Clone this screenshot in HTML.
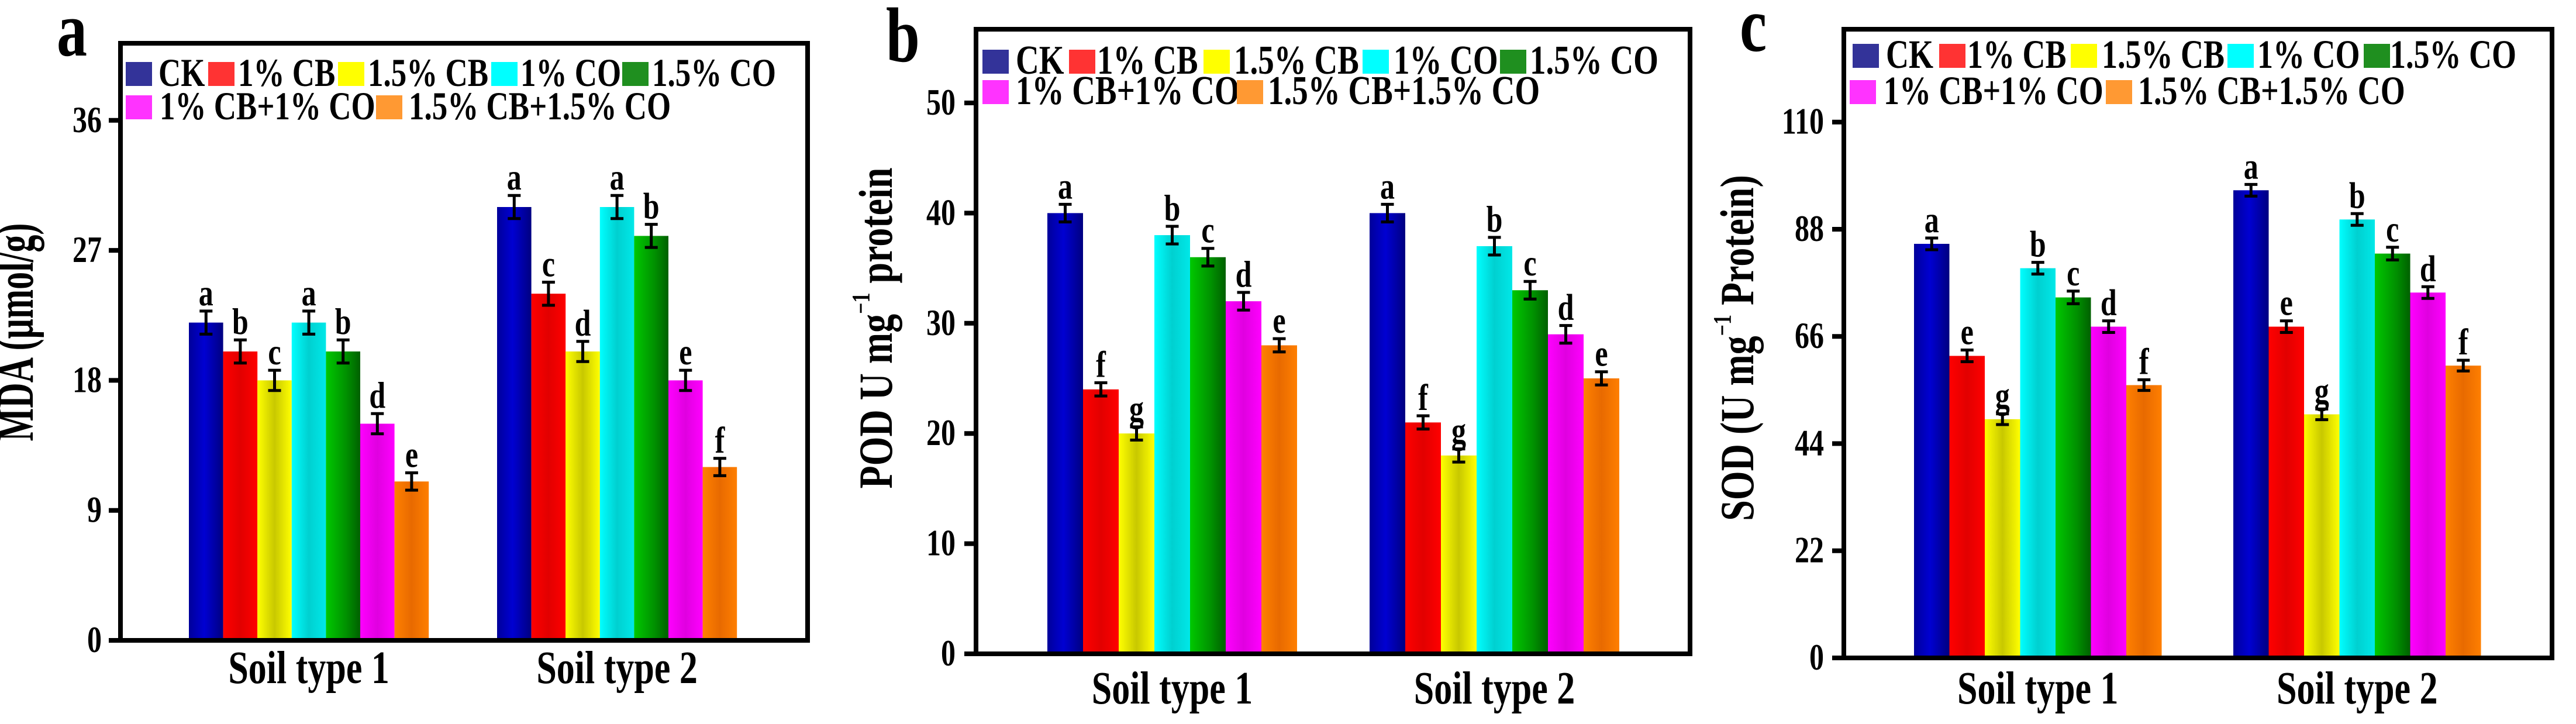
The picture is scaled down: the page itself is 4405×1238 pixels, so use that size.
<!DOCTYPE html>
<html><head><meta charset="utf-8"><style>
html,body{margin:0;padding:0;background:#fff;}
svg{display:block;font-family:"Liberation Serif",serif;font-weight:bold;}
</style></head><body>
<svg id="chart" width="4405" height="1238" viewBox="0 0 4405 1238" xmlns="http://www.w3.org/2000/svg">
<defs>
<linearGradient id="g0" x1="0" x2="1"><stop offset="0" stop-color="#00009a"/><stop offset="0.45" stop-color="#0000d2"/><stop offset="1" stop-color="#000080"/></linearGradient>
<linearGradient id="g1" x1="0" x2="1"><stop offset="0" stop-color="#ff0000"/><stop offset="0.5" stop-color="#e20000"/><stop offset="1" stop-color="#ff0000"/></linearGradient>
<linearGradient id="g2" x1="0" x2="1"><stop offset="0" stop-color="#ffff00"/><stop offset="0.5" stop-color="#c8c800"/><stop offset="1" stop-color="#ffff00"/></linearGradient>
<linearGradient id="g3" x1="0" x2="1"><stop offset="0" stop-color="#00ffff"/><stop offset="0.5" stop-color="#00d0d0"/><stop offset="1" stop-color="#00e8e8"/></linearGradient>
<linearGradient id="g4" x1="0" x2="1"><stop offset="0" stop-color="#00c800"/><stop offset="0.6" stop-color="#009000"/><stop offset="1" stop-color="#006000"/></linearGradient>
<linearGradient id="g5" x1="0" x2="1"><stop offset="0" stop-color="#ff00ff"/><stop offset="0.5" stop-color="#e000e0"/><stop offset="1" stop-color="#ff00ff"/></linearGradient>
<linearGradient id="g6" x1="0" x2="1"><stop offset="0" stop-color="#ff8000"/><stop offset="0.5" stop-color="#e86a00"/><stop offset="1" stop-color="#ff7f00"/></linearGradient>
</defs>
</svg>
<script>
// ---- data ----
const categories = ["Soil type 1", "Soil type 2"];
const seriesNames = ["CK", "1% CB", "1.5% CB", "1% CO", "1.5% CO", "1% CB+1% CO", "1.5% CB+1.5% CO"];
const mdaSoil1 = [22, 20, 18, 22, 20, 15, 11];
const mdaSoil2 = [30, 24, 20, 30, 28, 18, 12];
const mdaErr = [0.8, 0.8, 0.7, 0.8, 0.8, 0.7, 0.6];
const mdaLetters1 = ["a","b","c","a","b","d","e"];
const mdaLetters2 = ["a","c","d","a","b","e","f"];
const mdaTicks = [0, 9, 18, 27, 36];
const podSoil1 = [40, 24, 20, 38, 36, 32, 28];
const podSoil2 = [40, 21, 18, 37, 33, 29, 25];
const podErr = [0.8, 0.6, 0.6, 0.8, 0.8, 0.8, 0.6];
const podLetters1 = ["a","f","g","b","c","d","e"];
const podLetters2 = ["a","f","g","b","c","d","e"];
const podTicks = [0, 10, 20, 30, 40, 50];
const sodSoil1 = [85, 62, 49, 80, 74, 68, 56];
const sodSoil2 = [96, 68, 50, 90, 83, 75, 60];
const sodErr = [1.2, 1.2, 1.1, 1.2, 1.3, 1.2, 1.1];
const sodLetters1 = ["a","e","g","b","c","d","f"];
const sodLetters2 = ["a","e","g","b","c","d","f"];
const sodTicks = [0, 22, 44, 66, 88, 110];

const legendColors = ["#333399","#ff3333","#ffff00","#00ffff","#1f8f1f","#ff33ff","#ff9933"];
const NS = "http://www.w3.org/2000/svg";
const svg = document.getElementById("chart");
const SY = 1.28;
function mk(tag, attrs, parent, text){
  const e = document.createElementNS(NS, tag);
  for (const k in attrs) e.setAttribute(k, attrs[k]);
  if (text !== undefined) e.textContent = text;
  (parent || svg).appendChild(e);
  return e;
}
function txt(x, y, attrs, parent, text){
  const a = Object.assign({x:0, y:0, transform:`translate(${x},${y}) scale(1,${SY})`}, attrs);
  return mk("text", a, parent, text);
}

const panels = [
  {key:"mda", label:"a", labelX:97, labelY:95, left:206, right:1381, top:74, base:1095, perUnit:24.7,
   groupStarts:[323, 850], bw:58.6, s1:mdaSoil1, s2:mdaSoil2, err:mdaErr, l1:mdaLetters1, l2:mdaLetters2, ticks:mdaTicks,
   tickRight:174, catY:1168, titleX:56, titleY:568, titleFs:60, titleSY:1.5,
   leg:{fs:53, r1y:106, r2y:163, sq:[215,356,578,840,1064,215,643], tx:[271,407,629,890,1115,273,699]}},
  {key:"pod", label:"b", labelX:1515, labelY:105, left:1669, right:2890, top:50, base:1118, perUnit:18.84,
   groupStarts:[1791, 2342], bw:61, s1:podSoil1, s2:podSoil2, err:podErr, l1:podLetters1, l2:podLetters2, ticks:podTicks,
   tickRight:1634, catY:1203, titleX:1525, titleY:561, titleFs:64, titleSY:1.28,
   leg:{fs:55, r1y:85, r2y:137, sq:[1680,1828,2058,2330,2565,1680,2115], tx:[1737,1876,2110,2383,2616,1737,2168]}},
  {key:"sod", label:"c", labelX:2975, labelY:87, left:3153, right:4364, top:50, base:1125, perUnit:8.33,
   groupStarts:[3273, 3819], bw:60.5, s1:sodSoil1, s2:sodSoil2, err:sodErr, l1:sodLetters1, l2:sodLetters2, ticks:sodTicks,
   tickRight:3119, catY:1203, titleX:2998, titleY:595, titleFs:64, titleSY:1.28,
   leg:{fs:54, r1y:75, r2y:137, sq:[3168,3316,3541,3809,4042,3163,3601], tx:[3225,3364,3594,3860,4087,3221,3656]}}
];

panels.forEach(p => {
  const g = mk("g", {});
  
  
  const y = v => p.base - v * p.perUnit;
  const x = (gi, si) => p.groupStarts[gi] + si * p.bw;

  [p.s1, p.s2].forEach((vals, gi) => {
    const letters = gi === 0 ? p.l1 : p.l2;
    vals.forEach((v, si) => {
      const r = mk("rect", {x:x(gi,si), y:y(v), width:p.bw, height:p.base - y(v), fill:"url(#g"+si+")"}, g);
      
      
      const cx = x(gi,si) + p.bw/2;
      const eTop = y(v + p.err[si]), eBot = y(v - p.err[si]);
      const eb = mk("path", {d:`M${cx-11},${eTop}H${cx+11}M${cx},${eTop}V${eBot}M${cx-11},${eBot}H${cx+11}`, stroke:"#000", "stroke-width":5, fill:"none"}, g);
      
      
      const t = txt(cx, eTop - 10, {"font-size":50, "text-anchor":"middle"}, g, letters[si]);
      
      
    });
  });

  const fr = mk("rect", {x:p.left, y:p.top, width:p.right-p.left, height:p.base-p.top, fill:"none", stroke:"#000", "stroke-width":8}, g);
  
  

  p.ticks.forEach(tv => {
    const tk = mk("line", {x1:p.left-20, x2:p.left, y1:y(tv), y2:y(tv), stroke:"#000", "stroke-width":8}, g);
    
    
    const tl = txt(p.tickRight, y(tv)+20, {"font-size":50, "text-anchor":"end"}, g, String(tv));
    
    
  });

  categories.forEach((c, gi) => {
    const cx = p.groupStarts[gi] + 3.5 * p.bw;
    const ct = txt(cx, p.catY, {"font-size":62, "text-anchor":"middle"}, g, c);
    
    
  });

  const pl = txt(p.labelX, p.labelY, {"font-size":104}, g, p.label);
  
  

  const yt = mk("text", {x:0, y:0, "font-size":p.titleFs, "text-anchor":"middle", transform:`translate(${p.titleX},${p.titleY}) rotate(-90) scale(1,${p.titleSY})`}, g);
  
  
  if (p.key === "mda") {
    yt.textContent = "MDA (\u00b5mol/g)";
  } else if (p.key === "pod") {
    mk("tspan", {}, yt, "POD U mg");
    mk("tspan", {dy:-30, "font-size":34}, yt, "\u22121");
    mk("tspan", {dy:30}, yt, " protein");
  } else {
    mk("tspan", {}, yt, "SOD (U mg");
    mk("tspan", {dy:-30, "font-size":34}, yt, "\u22121");
    mk("tspan", {dy:30}, yt, " Protein)");
  }

  const lg = mk("g", {}, g);
  
  
  seriesNames.forEach((n, si) => {
    const ry = si < 5 ? p.leg.r1y : p.leg.r2y;
    const sq = mk("rect", {x:p.leg.sq[si], y:ry, width:45, height:41, fill:legendColors[si]}, lg);
    
    
    const lt = txt(p.leg.tx[si], ry+41, {"font-size":p.leg.fs}, lg, n);
    
    
  });
});
</script>
</body></html>
